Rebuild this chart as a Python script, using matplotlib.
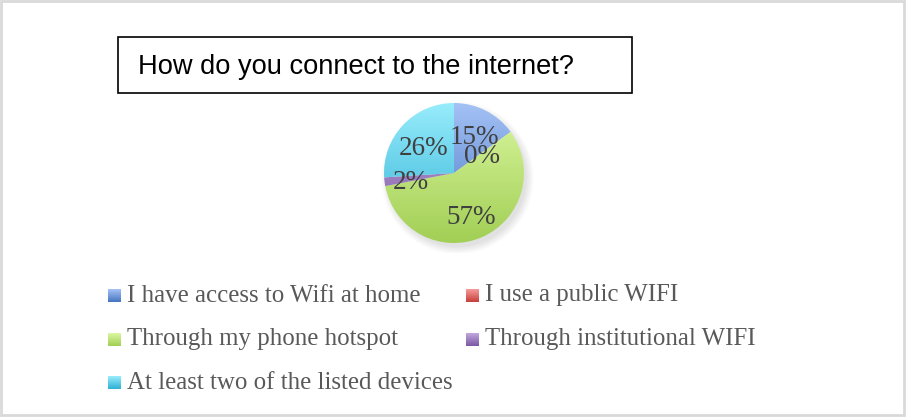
import numpy as np
import matplotlib
matplotlib.use("Agg")
import matplotlib.pyplot as plt
from matplotlib.patches import Rectangle
from matplotlib.colors import LinearSegmentedColormap

# survey answers
categories = ["I have access to Wifi at home", "I use a public WIFI",
              "Through my phone hotspot", "Through institutional WIFI",
              "At least two of the listed devices"]
shares = [15, 0, 57, 2, 26]
pct_labels = ["15%", "0%", "57%", "2%", "26%"]
title = "How do you connect to the internet?"

# light (top) / dark (bottom) colour for each slice
light = ["#a3c1f5", "#f59a98", "#daf7a0", "#bfa6dc", "#97ecfb"]
dark = ["#4776c2", "#c9403c", "#a2cf55", "#7d5aa6", "#2fb0d6"]
label_dist = [0.64, 0.5, 0.62, 0.62, 0.6]

W, H = 906, 417
fig = plt.figure(figsize=(W / 100, H / 100), dpi=100)
fig.patch.set_facecolor("white")

# full-size pixel axes for the frame, title box and legend
bg = fig.add_axes([0, 0, 1, 1])
bg.set_xlim(0, W)
bg.set_ylim(H, 0)
bg.axis("off")
bg.add_patch(Rectangle((1, 1), W - 3, H - 3, fill=False, ec="#d9d9d9", lw=2))
bg.add_patch(Rectangle((118, 37), 514, 56, fill=False, ec="black", lw=1.2))
bg.text(138, 67, title, fontsize=19.6, family="Liberation Sans",
        va="center", ha="left", color="black")


def grad(c1, c2):
    return LinearSegmentedColormap.from_list("g", [c1, c2])


# legend: two columns, three rows
col_x = [108, 466]
row_y = [295.5, 339.5, 383]
for i, name in enumerate(categories):
    x = col_x[i % 2]
    y = row_y[i // 2]
    g = np.linspace(0, 1, 20).reshape(-1, 1)
    bg.imshow(g, cmap=grad(light[i], dark[i]), aspect="auto",
              extent=(x, x + 12.5, y + 6.5, y - 6.5), zorder=2)
    bg.text(x + 19, y, name, fontsize=17.9, family="Liberation Serif",
            color="#595959", va="center", ha="left")
bg.set_xlim(0, W)
bg.set_ylim(H, 0)

# pie axes: centre (454, 173), radius 70 px
cx, cy, r = 454, 173, 70
ax = fig.add_axes([(cx - r - 10) / W, (H - cy - r - 10) / H,
                   (2 * r + 20) / W, (2 * r + 20) / H])
ax.set_aspect("equal")
ax.axis("off")

# soft shadow under the pie, shifted down and right
for k in range(10):
    sh = plt.Circle((0.05, -0.07), 0.98 + 0.012 * k, color="black",
                    alpha=0.012, lw=0, zorder=0)
    ax.add_patch(sh)

wedges, _ = ax.pie(shares, startangle=90, counterclock=False, radius=1,
                   center=(0, 0), wedgeprops=dict(lw=0))

angle = 90.0
for i, w in enumerate(wedges):
    w.set_facecolor("none")
    g = np.linspace(0, 1, 100).reshape(-1, 1)
    im = ax.imshow(g, cmap=grad(light[i], dark[i]), aspect="auto",
                   extent=(-1, 1, -1, 1), zorder=1)
    im.set_clip_path(w)
    span = shares[i] / sum(shares) * 360
    mid = np.radians(angle - span / 2)
    angle -= span
    ax.text(label_dist[i] * np.cos(mid), label_dist[i] * np.sin(mid) - 0.06,
            pct_labels[i], fontsize=19.5, family="Liberation Serif",
            color="#404040", ha="center", va="center", zorder=3)
ax.set_xlim(-(r + 10) / r, (r + 10) / r)
ax.set_ylim(-(r + 10) / r, (r + 10) / r)

fig.savefig("out.png", dpi=100, facecolor="white")
